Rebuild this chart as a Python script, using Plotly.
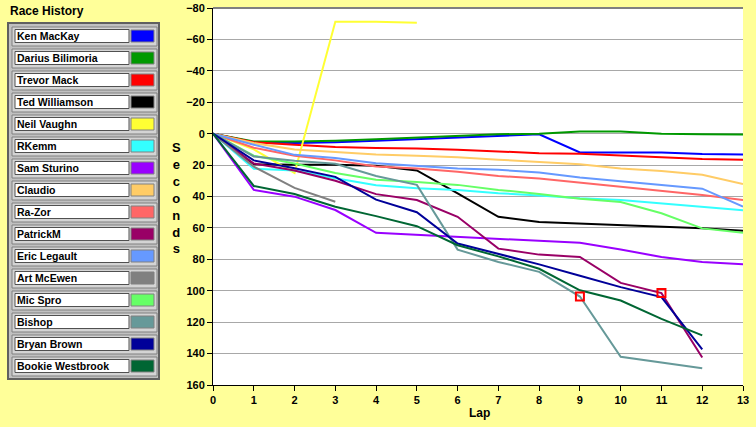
import plotly.graph_objects as go

# Race history: seconds behind the leader reference, per lap
laps = list(range(14))

drivers = ['Ken MacKay', 'Darius Bilimoria', 'Trevor Mack', 'Ted Williamson', 'Neil Vaughn',
           'RKemm', 'Sam Sturino', 'Claudio', 'Ra-Zor', 'PatrickM', 'Eric Legault',
           'Art McEwen', 'Mic Spro', 'Bishop', 'Bryan Brown', 'Bookie Westbrook']

colours = ['#0000ff', '#009900', '#ff0000', '#000000', '#ffff33',
           '#33ffff', '#9900ff', '#ffcc66', '#ff6666', '#990066', '#6699ff',
           '#808080', '#66ff66', '#669999', '#000099', '#006633']

ken = [0, 5.5, 6, 5.5, 4.5, 3.5, 2.6, 1.3, 0.4, 12, 12, 12, 13, 13.2]
darius = [0, 5, 5, 4.5, 3.5, 2.6, 1.3, 0.4, 0, -1.3, -1.3, 0, 0.4, 0.5]
trevor = [0, 5.5, 7, 8.5, 9.2, 9.4, 10.2, 11.5, 12.4, 12.8, 13.7, 15, 16.2, 16.6]
ted = [0, 19.4, 19.8, 19.8, 20.5, 23.4, 38, 52.9, 56.3, 57.2, 58.4, 58.9, 60.2, 61.8]
neil = [0, 10, 25, -71.3, -71.3, -70.6, None, None, None, None, None, None, None, None]
rkemm = [0, 22.4, 23.5, 28.4, 32.8, 34.8, 35.8, 37.9, 39.4, 41.1, 42.2, 44.3, 46.6, 48.8]
sam = [0, 35.8, 40.1, 48.6, 63.1, 64.4, 65.7, 66.8, 68.3, 69.5, 73.8, 78.5, 81.7, 83.2]
claudio = [0, 6, 10, 11.8, 13.2, 14, 15, 16.6, 17.9, 19.4, 22.2, 23.7, 26.2, 32]
razor = [0, 9, 14, 17, 20.9, 22.2, 24.3, 26.9, 28.6, 31.1, 33.7, 36.5, 39, 42.2]
patrick = [0, 19, 23.5, 30, 38.5, 42.2, 52.9, 73.2, 77, 78.5, 95, 101.5, 142.5, None]
eric = [0, 7, 13.5, 15.5, 18.8, 20.5, 22.2, 23, 24.7, 27.9, 30.4, 32.5, 35, 46.5]
art = [0, 21, 34.5, 43.3, None, None, None, None, None, None, None, None, None, None]
mic = [0, 14, 19, 25, 29.4, 30.7, 32.6, 35.8, 38.4, 41.5, 43.5, 50.7, 60.3, 63.1]
bishop = [0, 14.5, 17.3, 19.2, 27, 32.6, 73.8, 81.7, 88, 103.7, 142, 145.8, 149.4, None]
bryan = [0, 17, 22, 27.5, 42, 50, 69.9, 76.4, 83.2, 90.5, 97.7, 104, 137.3, None]
bookie = [0, 33.3, 38.4, 46.5, 52.5, 58.9, 71, 78.1, 86, 99.7, 106.2, 117.9, 128.4, None]

series = [ken, darius, trevor, ted, neil, rkemm, sam, claudio, razor, patrick, eric,
          art, mic, bishop, bryan, bookie]

# Red square flags on the plot
flag_laps = [9, 11]
flag_secs = [103.7, 101.5]

W, H = 756, 427
L, R, T, B = 213, 13, 8, 42
PW, PH = W - L - R, H - T - B


def px(x):
    return (x - L) / PW


def py(y):
    return 1 - (y - T) / PH


fig = go.Figure()
for name, col, vals in zip(drivers, colours, series):
    fig.add_trace(go.Scatter(x=laps, y=vals, name=name, mode='lines',
                             line=dict(color=col, width=2), showlegend=False))
fig.add_trace(go.Scatter(x=flag_laps, y=flag_secs, mode='markers', showlegend=False,
                         marker=dict(symbol='square-open', size=8, color='#ff0000',
                                     line=dict(width=2, color='#ff0000'))))

# LabVIEW style legend panel built from shapes
shapes = [dict(type='rect', xref='paper', yref='paper', x0=px(8), x1=px(159), y0=py(23), y1=py(379),
               fillcolor='#c0c0c0', line=dict(color='#606060', width=2), layer='above'),
          dict(type='line', xref='paper', yref='paper', x0=0, x1=1, y0=1, y1=1,
               line=dict(color='#808080', width=2))]
annotations = [dict(text='Race History', x=px(8), y=py(11), xref='paper', yref='paper',
                    xanchor='left', yanchor='middle', showarrow=False,
                    font=dict(family='Liberation Sans', size=12, color='black', weight='bold'))]
for i, (name, col) in enumerate(zip(drivers, colours)):
    cy = 36 + 22 * i
    shapes.append(dict(type='rect', xref='paper', yref='paper', x0=px(12), x1=px(157),
                       y0=py(cy - 9), y1=py(cy + 10), fillcolor='#d4d4d4',
                       line=dict(color='#808080', width=1), layer='above'))
    shapes.append(dict(type='rect', xref='paper', yref='paper', x0=px(15), x1=px(129),
                       y0=py(cy - 6.5), y1=py(cy + 6.5), fillcolor='white',
                       line=dict(color='#505050', width=1), layer='above'))
    shapes.append(dict(type='rect', xref='paper', yref='paper', x0=px(131), x1=px(154),
                       y0=py(cy - 6), y1=py(cy + 6), fillcolor=col,
                       line=dict(color='#808080', width=1), layer='above'))
    annotations.append(dict(text=name, x=px(15), y=py(cy), xref='paper', yref='paper',
                            xanchor='left', yanchor='middle', showarrow=False,
                            font=dict(family='Liberation Sans', size=10.5, color='black', weight='bold')))

# Axis titles
annotations.append(dict(text='S<br>e<br>c<br>o<br>n<br>d<br>s', x=px(176), y=py(198),
                        xref='paper', yref='paper', showarrow=False, align='center',
                        xanchor='center', yanchor='middle',
                        font=dict(family='Liberation Sans', size=13, color='black', weight='bold')))
annotations.append(dict(text='Lap', x=px(479), y=py(413), xref='paper', yref='paper',
                        showarrow=False, xanchor='center', yanchor='middle',
                        font=dict(family='Liberation Sans', size=12, color='black', weight='bold')))

fig.update_layout(width=W, height=H, margin=dict(l=L, r=R, t=T, b=B, autoexpand=False),
                  paper_bgcolor='#ffff99', plot_bgcolor='white',
                  shapes=shapes, annotations=annotations, showlegend=False)
fig.update_xaxes(range=[0, 13], tickvals=laps, showgrid=False, zeroline=False, automargin=False,
                 showline=True, linecolor='black', linewidth=1,
                 ticks='outside', ticklen=5, tickcolor='black',
                 tickfont=dict(family='Liberation Sans', size=11, color='black', weight='bold'))
fig.update_yaxes(range=[160, -80], tickvals=list(range(-80, 161, 20)), automargin=False,
                 showgrid=True, gridcolor='#a8a8a8', gridwidth=1, zeroline=False,
                 showline=True, linecolor='black', linewidth=1,
                 ticks='outside', ticklen=5, tickcolor='black',
                 tickfont=dict(family='Liberation Sans', size=11, color='black', weight='bold'))

# Page body has a default margin; remove it so the figure fills the window
fig.write_html("out.html", config={'displayModeBar': False},
               post_script="document.body.style.margin='0';document.body.style.overflow='hidden';")
